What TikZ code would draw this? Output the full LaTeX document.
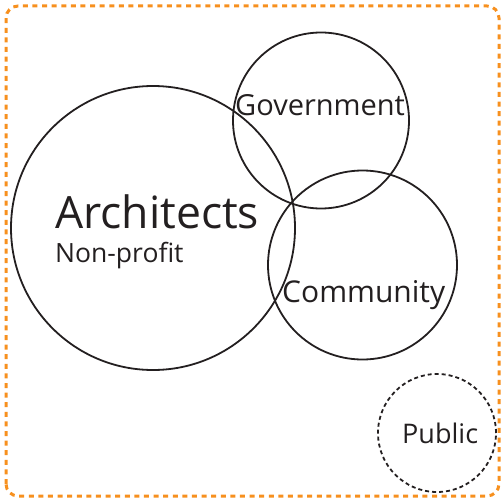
\documentclass[tikz,border=0pt]{standalone}
\usepackage{fontspec}
\setmainfont{Open Sans}
\definecolor{frameorange}{HTML}{F7901E}
\definecolor{ink}{HTML}{231F20}
\begin{document}
\begin{tikzpicture}[x=1pt,y=-1pt,
  ring/.style={draw=ink,line width=1.8pt},
  dashring/.style={draw=ink,line width=1.8pt,dash pattern=on 4pt off 3pt},
  frame/.style={draw=frameorange,line width=3pt,dash pattern=on 5pt off 4.6pt,rounded corners=12pt},
  lbl/.style={text=ink,inner sep=0pt,anchor=base west}]
\useasboundingbox (0,0) rectangle (503,500);
\draw[frame] (6,496) rectangle (499,6);
\node[ring,circle,minimum size=284pt,inner sep=0pt] (arch) at (153,228) {};
\node[ring,circle,minimum size=176pt,inner sep=0pt] (gov) at (321,120.5) {};
\node[ring,circle,minimum size=189pt,inner sep=0pt] (comm) at (362.5,265) {};
\node[dashring,circle,minimum size=118pt,inner sep=0pt] (pub) at (437,433) {};
\node[lbl,font=\fontsize{44.5}{44.5}\selectfont] (tarch) at (55,228) {Architects};
\node[lbl,font=\fontsize{26.5}{26.5}\selectfont] (tnp) at (55,262) {Non-profit};
\node[lbl,font=\fontsize{29}{29}\selectfont] (tgov) at (235,116) {Government};
\node[lbl,font=\fontsize{30}{30}\selectfont] (tcomm) at (282,302) {Community};
\node[lbl,font=\fontsize{27}{27}\selectfont] (tpub) at (402,443) {Public};
\end{tikzpicture}
\end{document}
